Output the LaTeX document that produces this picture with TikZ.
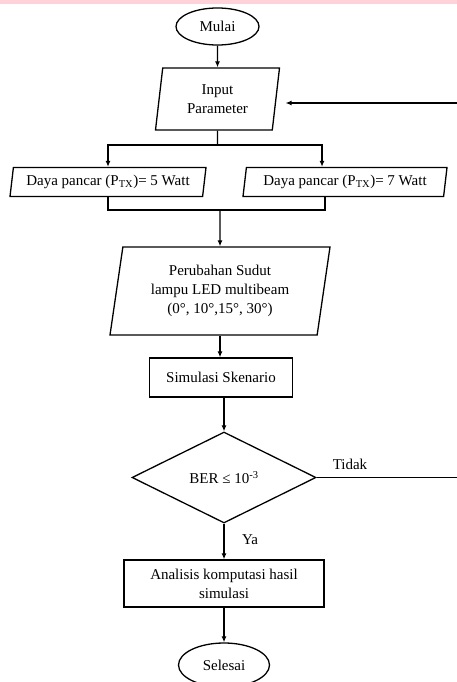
\documentclass[tikz,border=0pt]{standalone}
\usepackage{fontspec}
\setmainfont{Liberation Serif}
\usetikzlibrary{shapes.geometric,arrows.meta}
\definecolor{bandpink}{RGB}{255,209,216}

\begin{document}
\begin{tikzpicture}[x=1pt,y=-1pt,
  every node/.style={font=\fontsize{15}{19}\selectfont},
  line/.style={black,line width=1.3pt},
  arr/.style={line,-{Latex[length=6pt,width=5pt]}},
  terminal/.style={line,draw,ellipse,inner sep=0pt},
  io/.style={line,draw,trapezium,trapezium left angle=76,trapezium right angle=104,
    trapezium stretches body,inner sep=0pt,align=center},
  process/.style={line,draw,rectangle,inner sep=0pt,align=center},
  decision/.style={line,draw,diamond,inner sep=0pt,aspect=2}]
\useasboundingbox (0,0) rectangle (457,682);
\fill[bandpink] (0,0) rectangle (457,4);

\node[terminal,minimum width=83pt,minimum height=37pt] (mulai) at (217.5,26.5) {Mulai};
\node[io,minimum width=124pt,minimum height=62pt] (inp) at (217.5,99) {Input\\Parameter};
\node[io,minimum width=196pt,minimum height=29pt] (p5) at (108,182) {Daya pancar (P\textsubscript{TX})= 5 Watt};
\node[io,minimum width=204pt,minimum height=29pt] (p7) at (345,182) {Daya pancar (P\textsubscript{TX})= 7 Watt};
\node[io,minimum width=220pt,minimum height=88pt] (sudut) at (220,291) {Perubahan Sudut\\lampu LED multibeam\\(0°, 10°,15°, 30°)};
\node[process,minimum width=143pt,minimum height=39pt] (sim) at (221,377.5) {Simulasi Skenario};
\node[decision,minimum width=184pt,minimum height=91pt] (ber) at (224,477.5) {BER ≤ 10\textsuperscript{-3}};
\node[process,minimum width=200pt,minimum height=47pt] (analisis) at (224,583.5) {Analisis komputasi hasil\\simulasi};
\node[terminal,minimum width=91pt,minimum height=44pt] (selesai) at (224,665) {Selesai};

\node (tidak) at (350,464) {Tidak};
\node (ya) at (250,540) {Ya};

\coordinate (split) at (217.5,145);
\coordinate (merge) at (220,210);
\coordinate (loopin) at (457,103);
\coordinate (loopout) at (457,477.5);

\draw[arr] (mulai) -- (inp);
\draw[line] (inp.south) -- (split);
\draw[arr] (split) -| (p5.north);
\draw[arr] (split) -| ([xshift=-23pt]p7.north);
\draw[line] (p5.south) |- (merge);
\draw[line] ([xshift=-20pt]p7.south) |- (merge);
\draw[arr] (merge) -- (sudut.north);
\draw[arr] (sudut.south) -- (sudut.south |- sim.north);
\draw[arr] (sim.south -| ber.north) -- (ber.north);
\draw[arr] (ber) -- (analisis);
\draw[arr] (analisis) -- (selesai);
\draw[line] (ber.east) -- (loopout);
\draw[arr,shorten >=9pt] (loopin) -- (loopin -| inp.east);

\end{tikzpicture}
\end{document}
